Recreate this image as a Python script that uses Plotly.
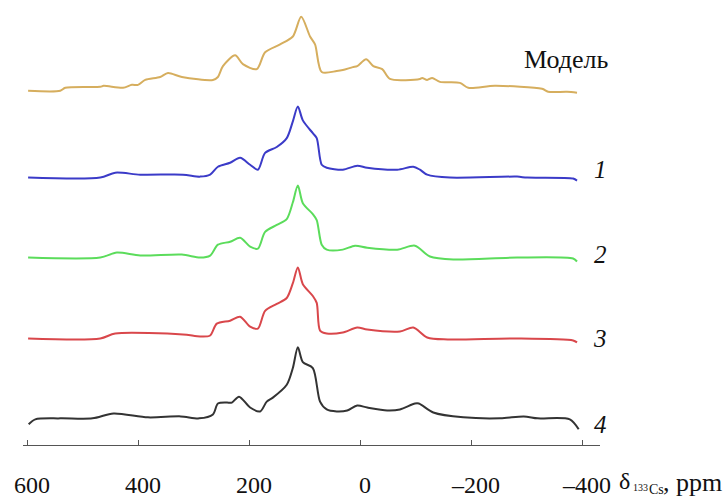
import plotly.graph_objects as go

# ---- data (ppm, intensity) ----
model_ppm = [598, 540, 531, 468, 462, 427, 411, 400, 387, 360, 346, 321, 265, 256, 247, 225, 211, 186, 171, 144, 121, 106, 90, 81, 69, 42, 31, 13, 5, -11, -24, -40, -54, -108, -112, -121, -130, -144, -180, -195, -243, -328, -339, -373, -391]
model_int = [0, 0, 3, 4, 5, 3, 6, 6, 11, 14, 18, 14, 11, 14, 25, 36, 27, 22, 39, 47, 55, 75, 55, 47, 19, 20, 21, 24, 25, 32, 25, 22, 12, 12, 13, 11, 13, 9, 8, 3, 5, 2, -1, -1, -2]

s1_ppm = [598, 468, 441, 396, 319, 288, 270, 256, 234, 216, 198, 184, 171, 150, 132, 121, 112, 103, 85, 78, 69, 60, 31, 5, -13, -67, -96, -108, -121, -162, -283, -301, -384, -391]
s1_int = [0, 0, 5, 3, 3, 1, 3, 11, 15, 20, 13, 8, 25, 31, 40, 57, 72, 58, 45, 40, 13, 10, 8, 12, 10, 8, 11, 8, 3, 0, 1, 0, -1, -3]

s2_ppm = [598, 468, 438, 396, 321, 288, 270, 256, 234, 216, 198, 184, 171, 150, 132, 121, 112, 103, 85, 78, 69, 60, 31, 9, -13, -67, -99, -126, -168, -283, -384, -391]
s2_int = [0, 0, 5, 2, 3, 0, 2, 13, 16, 20, 11, 9, 26, 33, 39, 56, 73, 55, 44, 38, 13, 8, 8, 12, 10, 8, 12, 1, -2, 0, -1, -4]

s3_ppm = [598, 468, 441, 319, 288, 270, 258, 234, 216, 198, 184, 171, 150, 132, 121, 112, 103, 85, 78, 72, 60, 31, 5, -13, -72, -96, -121, -158, -283, -384, -391]
s3_int = [0, 0, 5, 4, 2, 3, 15, 18, 22, 12, 10, 28, 35, 41, 56, 72, 55, 43, 36, 8, 5, 6, 11, 9, 7, 11, 1, -1, 0, -2, -4]

s4_ppm = [597, 585, 540, 482, 444, 382, 323, 290, 265, 256, 240, 231, 218, 198, 180, 168, 157, 132, 121, 112, 103, 85, 72, 60, 42, 23, 5, -13, -49, -72, -99, -106, -132, -186, -253, -295, -320, -378, -394]
s4_int = [-5, 0, 1, 1, 6, 2, 3, 1, 5, 16, 17, 17, 23, 12, 8, 18, 22, 35, 52, 73, 58, 52, 18, 10, 8, 9, 14, 12, 9, 10, 16, 16, 7, 2, 1, 3, 1, 0, -10]

labels = ["Модель", "1", "2", "3", "4"]
tick_vals = [600, 400, 200, 0, -200, -400]
tick_text = ["600", "400", "200", "0", "–200", "–400"]

# ---- styling / layout ----
offsets = [359, 271, 190, 108, 26]
label_y = [391, 279, 193, 108, 21]
colors = ["#D6AE5E", "#3B3BC8", "#5BDC5B", "#D9474B", "#333333"]
series = [(model_ppm, model_int), (s1_ppm, s1_int), (s2_ppm, s2_int), (s3_ppm, s3_int), (s4_ppm, s4_int)]

fig = go.Figure()
for (xs, ys), off, c in zip(series, offsets, colors):
    fig.add_trace(go.Scatter(x=xs, y=[v + off for v in ys], mode="lines",
                             line=dict(color=c, width=2, shape="spline", smoothing=0.8),
                             showlegend=False, hoverinfo="skip"))

font_serif = "Liberation Serif"
txt_color = "#111111"
for i, (txt, ly) in enumerate(zip(labels, label_y)):
    if i == 0:
        fig.add_annotation(xref="paper", x=1.0, xshift=-78, y=ly, yref="y",
                           text=txt, showarrow=False, xanchor="left",
                           font=dict(family=font_serif, size=26, color=txt_color))
    else:
        fig.add_annotation(xref="paper", x=1.0, xshift=0, y=ly, yref="y",
                           text=f"<i>{txt}</i>", showarrow=False, xanchor="center",
                           font=dict(family=font_serif, size=25, color=txt_color))

# axis title δ(133Cs), ppm built from pieces
title_parts = [("δ", 24, 17, -36), ("133", 10, 31, -42), ("Cs", 14, 47, -44), (", ppm", 26, 61, -37)]
for t, sz, dx, dy in title_parts:
    fig.add_annotation(xref="paper", yref="paper", x=1.0, y=0, xshift=dx, yshift=dy,
                       xanchor="left", yanchor="middle", showarrow=False, text=t,
                       font=dict(family=font_serif, size=sz, color=txt_color))

fig.update_layout(
    width=723, height=498,
    margin=dict(l=23, r=123, t=0, b=47),
    plot_bgcolor="white", paper_bgcolor="white",
    xaxis=dict(range=[607.2, -432.4], tickvals=tick_vals, ticktext=tick_text,
               showline=True, linecolor="#555", linewidth=1.2,
               ticks="inside", ticklen=5, tickcolor="#555",
               showgrid=False, zeroline=False, ticklabelstandoff=18,
               ticklabelshift=-5,
               tickfont=dict(family=font_serif, size=24, color=txt_color)),
    yaxis=dict(range=[0, 451], visible=False),
)
fig.write_html("out.html", post_script="document.body.style.margin='0';",
               config={"displayModeBar": False})
